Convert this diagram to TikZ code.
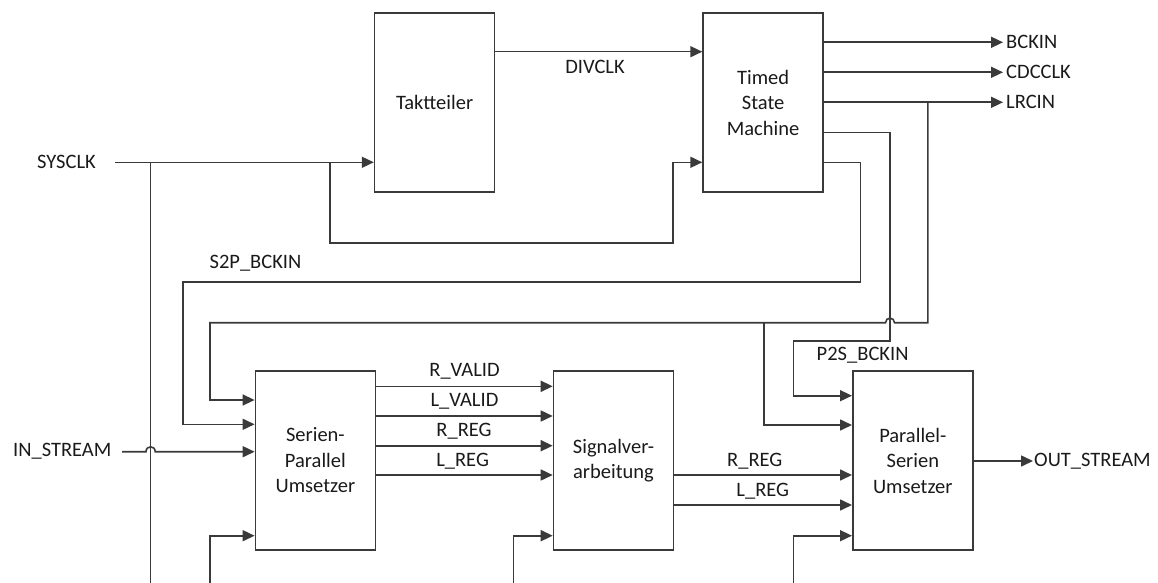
\documentclass[tikz,border=0pt]{standalone}
\usepackage{fontspec}
\setmainfont{Carlito}
\usetikzlibrary{arrows.meta,calc}
\definecolor{linecol}{HTML}{3A3A3A}
\definecolor{txtcol}{HTML}{1A1A1A}
\begin{document}
\begin{tikzpicture}[x=1pt,y=-1pt,
  wire/.style={draw=linecol, line width=1.6pt},
  arr/.style={wire,-{Triangle[length=12pt,width=11pt]}},
  blk/.style={draw=linecol, line width=1.6pt, minimum width=120pt, minimum height=179.5pt,
    inner sep=0pt, align=center, text=txtcol, font=\fontsize{20.5}{25.5}\selectfont},
  lbl/.style={inner sep=0pt, text=txtcol, font=\fontsize{20.5}{23}\selectfont}
]
\useasboundingbox (0,0) rectangle (1158,583);

% blocks
\node[blk] (tt)  at (434.6,102.5) {Taktteiler};
\node[blk] (tsm) at (763.1,102.5) {Timed\\State\\Machine};
\node[blk] (sp)  at (315.4,460.5) {Serien-\\Parallel\\Umsetzer};
\node[blk] (sv)  at (613.5,460.5) {Signalver-\\arbeitung};
\node[blk] (ps)  at (912.8,460.5) {Parallel-\\Serien\\Umsetzer};

% labels
\node[lbl, anchor=west] (sysclk) at (37,162.3) {SYSCLK};
\node[lbl, anchor=west] (instream) at (13,451.7) {IN\_STREAM};
\node[lbl] (divclk) at (595,67) {DIVCLK};
\node[lbl, anchor=west] (bckin) at (1006,42.3) {BCKIN};
\node[lbl, anchor=west] (cdcclk) at (1006,72.3) {CDCCLK};
\node[lbl, anchor=west] (lrcin) at (1006,102.3) {LRCIN};
\node[lbl] (s2pb) at (255.5,263.3) {S2P\_BCKIN};
\node[lbl] (p2sb) at (862.6,355) {P2S\_BCKIN};
\node[lbl] (rvalid) at (464.5,371) {R\_VALID};
\node[lbl] (lvalid) at (464.5,401) {L\_VALID};
\node[lbl] (rreg1) at (464,431) {R\_REG};
\node[lbl] (lreg1) at (462.6,461) {L\_REG};
\node[lbl] (rreg2) at (754.8,461.7) {R\_REG};
\node[lbl] (lreg2) at (762.8,491.7) {L\_REG};
\node[lbl, anchor=west] (outstream) at (1034,461) {OUT\_STREAM};

% helper coordinates
\coordinate (ysys) at (0,162.3);
\coordinate (ydiv) at (0,51.7);
\coordinate (y4) at (0,132.3);
\coordinate (sysstart) at (115,162.3);
\coordinate (jA) at (150.6,162.3);
\coordinate (bA) at (150.6,583);
\coordinate (jB) at (330,162.3);
\coordinate (bus) at (927.8,322.7);

% SYSCLK
\draw[arr] (sysstart) -- (tt.west |- ysys);
\draw[wire] (jA) -- (bA);
\draw[arr] (jB) -- (330,242.7) -- (673.2,242.7) -- (673.2,162.3) -- (tsm.west |- ysys);

% DIVCLK
\draw[arr] (tt.east |- ydiv) -- (tsm.west |- ydiv);

% TSM outputs
\draw[arr] (tsm.east |- bckin) -- ([xshift=-3pt]bckin.west);
\draw[arr] (tsm.east |- cdcclk) -- ([xshift=-3pt]cdcclk.west);
\draw[arr] (tsm.east |- lrcin) -- ([xshift=-3pt]lrcin.west);

% LRCIN bus
\draw[arr] (927.8,102.3) -- (bus) -- (894.5,322.7)
  .. controls (894.5,316.7) and (885.5,316.7) .. (885.5,322.7)
  -- (210,322.7) -- (210,400) -- (sp.west |- 0,400);
\draw[arr] (763.9,322.7) -- (763.9,425) -- (ps.west |- 0,425);

% P2S_BCKIN
\draw[arr] (tsm.east |- y4) -- (890,132.3) -- (890,341) -- (793.5,341) -- (793.5,395.7) -- (ps.west |- 0,395.7);

% S2P_BCKIN
\draw[arr] (tsm.east |- ysys) -- (860.4,162.3) -- (860.4,281.7) -- (183,281.7) -- (183,424.3) -- (sp.west |- 0,424.3);

% IN_STREAM
\draw[arr] (122,451.7) -- (146,451.7)
  .. controls (146,445.2) and (155.2,445.2) .. (155.2,451.7)
  -- (sp.west |- instream);

% S2P -> Signalverarbeitung
\draw[arr] (sp.east |- 0,386.3) -- (sv.west |- 0,386.3);
\draw[arr] (sp.east |- 0,416) -- (sv.west |- 0,416);
\draw[arr] (sp.east |- 0,445.7) -- (sv.west |- 0,445.7);
\draw[arr] (sp.east |- 0,475) -- (sv.west |- 0,475);

% Signalverarbeitung -> P2S
\draw[arr] (sv.east |- 0,475) -- (ps.west |- 0,475);
\draw[arr] (sv.east |- 0,505) -- (ps.west |- 0,505);

% bottom inputs
\draw[arr] (210,583) -- (210,535.7) -- (sp.west |- 0,535.7);
\draw[arr] (513.5,583) -- (513.5,535.7) -- (sv.west |- 0,535.7);
\draw[arr] (793.5,583) -- (793.5,535.7) -- (ps.west |- 0,535.7);

% OUT_STREAM
\draw[arr] (ps.east |- outstream) -- ([xshift=-1pt]outstream.west);
\end{tikzpicture}
\end{document}
